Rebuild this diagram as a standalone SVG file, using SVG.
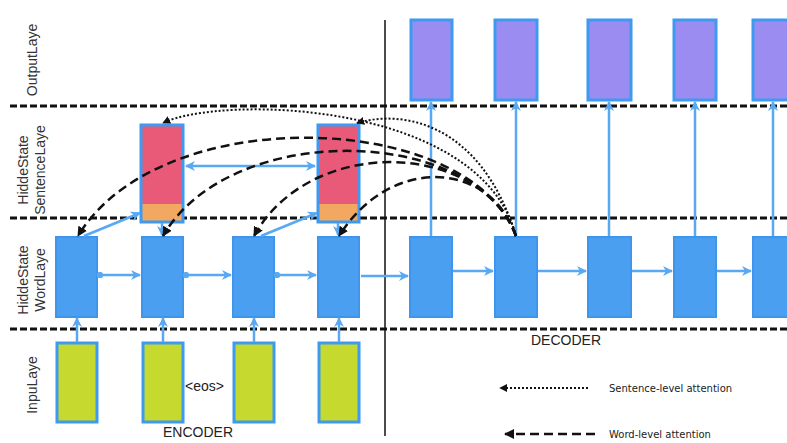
<svg xmlns="http://www.w3.org/2000/svg" width="787" height="443" viewBox="0 0 787 443">
<style>
.sep{stroke:#111;stroke-width:3;stroke-dasharray:7 3;fill:none}
.word{fill:#4a9ff0;stroke:#3d95ee;stroke-width:2}
.out{fill:#9a8cf0;stroke:#3d9af0;stroke-width:3}
.inp{fill:#c6d92e;stroke:#3d9af0;stroke-width:3}
.pink{fill:#e85a78}
.orange{fill:#f2a860}
.sbox{fill:none;stroke:#3d9af0;stroke-width:3}
.blue{stroke:#58a8f2;stroke-width:2.5;fill:none}
.dash{stroke:#111;stroke-width:2.5;stroke-dasharray:9 5;fill:none}
.dot{stroke:#111;stroke-width:2;stroke-dasharray:2 2;fill:none}
.lbl{font-family:"Liberation Sans",Arial,sans-serif;font-size:14px;fill:#333}
.cap{font-family:"Liberation Sans",Arial,sans-serif;font-size:14px;fill:#222}
.leg{font-family:"DejaVu Sans",sans-serif;font-size:10px;fill:#222}
</style>
<defs>
<marker id="ba" viewBox="0 0 10 10" refX="9" refY="5" markerWidth="4" markerHeight="4" orient="auto"><path d="M0,0 L10,5 L0,10 L3,5 z" fill="#58a8f2"/></marker>
<marker id="bl" viewBox="0 0 10 10" refX="1" refY="5" markerWidth="4" markerHeight="4" orient="auto"><path d="M10,0 L0,5 L10,10 L7,5 z" fill="#58a8f2"/></marker>
<marker id="bs" viewBox="0 0 10 10" refX="5" refY="5" markerWidth="2.5" markerHeight="2.5" orient="auto"><circle cx="5" cy="5" r="5" fill="#58a8f2"/></marker>
<marker id="ka" viewBox="0 0 10 10" refX="9" refY="5" markerWidth="4" markerHeight="4" orient="auto"><path d="M0,0 L10,5 L0,10 z" fill="#111"/></marker>
</defs>

<!-- layer separators -->
<line class="sep" x1="10" y1="106" x2="787" y2="106"/>
<line class="sep" x1="10" y1="218" x2="787" y2="218"/>
<line class="sep" x1="10" y1="329" x2="787" y2="329"/>
<line x1="385" y1="20" x2="385" y2="436" stroke="#111" stroke-width="1.5"/>

<!-- layer labels -->
<text class="lbl" transform="translate(37,60) rotate(-90)" text-anchor="middle">OutputLaye</text>
<text class="lbl" transform="translate(28,170) rotate(-90)" text-anchor="middle">HiddeState</text>
<text class="lbl" transform="translate(45,170) rotate(-90)" text-anchor="middle">SentenceLaye</text>
<text class="lbl" transform="translate(28,280) rotate(-90)" text-anchor="middle">HiddeState</text>
<text class="lbl" transform="translate(45,280) rotate(-90)" text-anchor="middle">WordLaye</text>
<text class="lbl" transform="translate(37,385) rotate(-90)" text-anchor="middle">InpuLaye</text>

<!-- output layer -->
<g id="out1"><rect class="out" x="411" y="20" width="41" height="80"/></g>
<g id="out2"><rect class="out" x="495" y="20" width="42" height="80"/></g>
<g id="out3"><rect class="out" x="588" y="20" width="43" height="80"/></g>
<g id="out4"><rect class="out" x="674" y="20" width="42" height="80"/></g>
<g id="out5"><rect class="out" x="753" y="20" width="40" height="80"/></g>

<!-- sentence layer -->
<g id="sent1"><rect class="pink" x="141" y="125" width="42" height="79"/><rect class="orange" x="141" y="204" width="42" height="18"/><rect class="sbox" x="141" y="125" width="42" height="97"/></g>
<g id="sent2"><rect class="pink" x="318" y="125" width="41" height="79"/><rect class="orange" x="318" y="204" width="41" height="18"/><rect class="sbox" x="318" y="125" width="41" height="97"/></g>

<!-- word layer encoder -->
<g id="enc1"><rect class="word" x="56" y="237" width="41" height="80"/></g>
<g id="enc2"><rect class="word" x="142" y="237" width="41" height="80"/></g>
<g id="enc3"><rect class="word" x="233" y="237" width="41" height="80"/></g>
<g id="enc4"><rect class="word" x="318" y="237" width="41" height="80"/></g>
<!-- word layer decoder -->
<g id="dec1"><rect class="word" x="410" y="237" width="42" height="80"/></g>
<g id="dec2"><rect class="word" x="495" y="237" width="42" height="80"/></g>
<g id="dec3"><rect class="word" x="588" y="237" width="43" height="80"/></g>
<g id="dec4"><rect class="word" x="674" y="237" width="42" height="80"/></g>
<g id="dec5"><rect class="word" x="753" y="237" width="40" height="80"/></g>

<!-- input layer -->
<g id="in1"><rect class="inp" x="57" y="343" width="40" height="79"/></g>
<g id="in2"><rect class="inp" x="143" y="343" width="40" height="79"/></g>
<g id="in3"><rect class="inp" x="234" y="343" width="40" height="79"/></g>
<g id="in4"><rect class="inp" x="319" y="343" width="40" height="79"/></g>

<g id="connectors">
<!-- input to word -->
<line class="blue" x1="77" y1="342" x2="77" y2="318" marker-end="url(#ba)"/>
<line class="blue" x1="163" y1="342" x2="163" y2="318" marker-end="url(#ba)"/>
<line class="blue" x1="254" y1="342" x2="254" y2="318" marker-end="url(#ba)"/>
<line class="blue" x1="339" y1="342" x2="339" y2="318" marker-end="url(#ba)"/>
<!-- encoder recurrence -->
<line class="blue" x1="100" y1="275" x2="140" y2="275" marker-start="url(#bs)" marker-end="url(#ba)"/>
<line class="blue" x1="186" y1="275" x2="231" y2="275" marker-start="url(#bs)" marker-end="url(#ba)"/>
<line class="blue" x1="277" y1="275" x2="316" y2="275" marker-start="url(#bs)" marker-end="url(#ba)"/>
<line class="blue" x1="361" y1="276" x2="408" y2="276" marker-end="url(#ba)"/>
<!-- decoder recurrence -->
<line class="blue" x1="453" y1="271" x2="493" y2="271" marker-end="url(#ba)"/>
<line class="blue" x1="538" y1="271" x2="586" y2="271" marker-end="url(#ba)"/>
<line class="blue" x1="632" y1="271" x2="672" y2="271" marker-end="url(#ba)"/>
<line class="blue" x1="717" y1="271" x2="751" y2="271" marker-end="url(#ba)"/>
<!-- decoder to output -->
<line class="blue" x1="431" y1="236" x2="431" y2="102" marker-end="url(#ba)"/>
<line class="blue" x1="516" y1="236" x2="516" y2="102" marker-end="url(#ba)"/>
<line class="blue" x1="609" y1="236" x2="609" y2="102" marker-end="url(#ba)"/>
<line class="blue" x1="695" y1="236" x2="695" y2="102" marker-end="url(#ba)"/>
<line class="blue" x1="773" y1="236" x2="773" y2="102" marker-end="url(#ba)"/>
<!-- word to sentence -->
<line class="blue" x1="84" y1="236" x2="140" y2="213" marker-end="url(#ba)"/>
<line class="blue" x1="261" y1="236" x2="317" y2="213" marker-end="url(#ba)"/>
<line class="blue" x1="162" y1="223" x2="162" y2="235" marker-end="url(#ba)"/>
<line class="blue" x1="338" y1="223" x2="338" y2="235" marker-end="url(#ba)"/>
<!-- sentence recurrence -->
<line class="blue" x1="186" y1="166" x2="315" y2="166" marker-start="url(#bl)" marker-end="url(#ba)"/>

<!-- word-level attention -->
<path class="dash" d="M516,236 C470,110 160,100 78,236" marker-end="url(#ka)"/>
<path class="dash" d="M516,236 C475,125 230,120 163,236" marker-end="url(#ka)"/>
<path class="dash" d="M516,236 C480,140 310,135 254,236" marker-end="url(#ka)"/>
<path class="dash" d="M516,236 C490,160 390,155 339,236" marker-end="url(#ka)"/>
<!-- sentence-level attention -->
<path class="dot" d="M516,236 C480,100 220,95 163,123" marker-end="url(#ka)"/>
<path class="dot" d="M516,236 C480,120 400,110 357,123" marker-end="url(#ka)"/>
</g>

<text class="cap" x="163" y="437">ENCODER</text>
<text class="cap" x="531" y="345">DECODER</text>
<text class="cap" x="185" y="391">&lt;eos&gt;</text>

<!-- legend -->
<g id="legend">
<line class="dot" x1="588" y1="388" x2="500" y2="388" marker-end="url(#ka)"/>
<text class="leg" x="609" y="392">Sentence-level attention</text>
<line class="dash" x1="595" y1="434" x2="505" y2="434" marker-end="url(#ka)"/>
<text class="leg" x="609" y="438">Word-level attention</text>
</g>
</svg>
